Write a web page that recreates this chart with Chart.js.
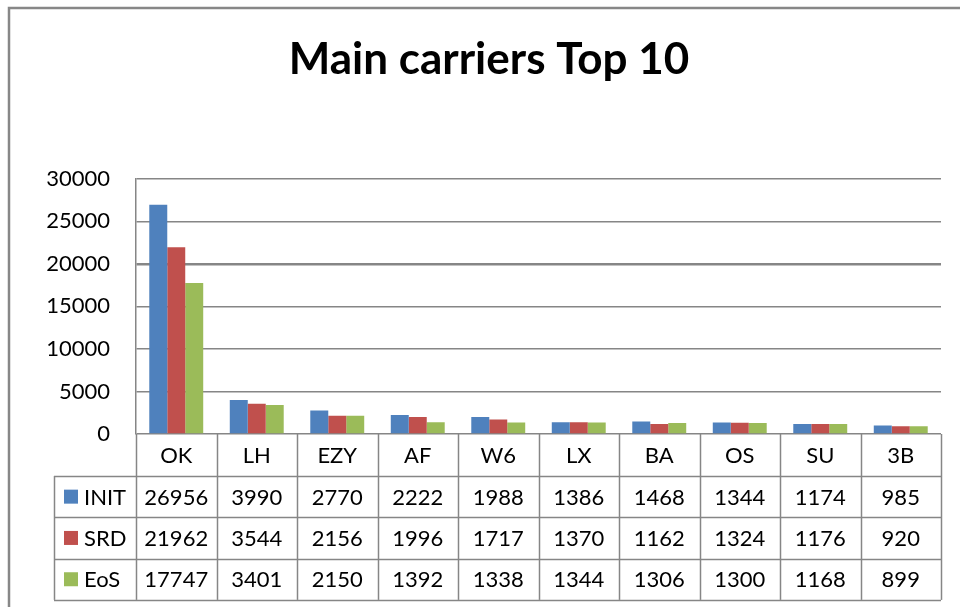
<!DOCTYPE html>
<html>
<head>
<meta charset="utf-8">
<script src="https://cdn.jsdelivr.net/npm/chart.js@4"></script>
<style>
  html, body { margin: 0; padding: 0; background: #fff; }
  #wrap { width: 960px; height: 607px; position: relative; }
</style>
</head>
<body>
<div id="wrap"><canvas id="c" width="960" height="607"></canvas></div>
<script>
const categories = ["OK", "LH", "EZY", "AF", "W6", "LX", "BA", "OS", "SU", "3B"];
const seriesNames = ["INIT", "SRD", "EoS"];
const initValues = [26956, 3990, 2770, 2222, 1988, 1386, 1468, 1344, 1174, 985];
const srdValues  = [21962, 3544, 2156, 1996, 1717, 1370, 1162, 1324, 1176, 920];
const eosValues  = [17747, 3401, 2150, 1392, 1338, 1344, 1306, 1300, 1168, 899];
const yTicks = [0, 5000, 10000, 15000, 20000, 25000, 30000];
const titleText = "Main carriers Top 10";

const colors = ["#4F81BD", "#C0504D", "#9BBB59"];
const gridColor = "#868686";
const FONT = "Lato";

const frame = {
  id: 'frame',
  beforeDraw(chart) {
    const ctx = chart.ctx;
    ctx.save();
    ctx.fillStyle = '#fff';
    ctx.fillRect(0, 0, chart.width, chart.height);
    ctx.strokeStyle = '#878787';
    ctx.lineWidth = 2.5;
    ctx.beginPath();
    ctx.moveTo(9, chart.height + 5);
    ctx.lineTo(9, 8);
    ctx.lineTo(chart.width + 5, 8);
    ctx.stroke();
    ctx.restore();
  }
};

const dataTable = {
  id: 'dataTable',
  afterDraw(chart) {
    const ctx = chart.ctx;
    const x = chart.scales.x;
    const area = chart.chartArea;
    const n = categories.length;
    const half = (x.getPixelForValue(1) - x.getPixelForValue(0)) / 2;
    const top = area.bottom;
    const rowH = 41.3;
    const tableLeft = 54;
    const right = x.getPixelForValue(n - 1) + half;
    const rows = [top, top + rowH + 0.7];
    for (let i = 1; i <= 3; i++) rows.push(rows[1] + i * rowH);
    ctx.save();
    ctx.strokeStyle = gridColor;
    ctx.lineWidth = 1.5;
    for (let r = 1; r < rows.length; r++) {
      ctx.beginPath();
      ctx.moveTo(tableLeft, Math.round(rows[r]) + 0.5);
      ctx.lineTo(right, Math.round(rows[r]) + 0.5);
      ctx.stroke();
    }
    ctx.beginPath();
    ctx.moveTo(tableLeft + 0.5, rows[1]);
    ctx.lineTo(tableLeft + 0.5, rows[4]);
    ctx.stroke();
    for (let i = 0; i <= n; i++) {
      const px = Math.round(x.getPixelForValue(i) - half) + 0.5;
      ctx.beginPath();
      ctx.moveTo(px, top);
      ctx.lineTo(px, rows[4]);
      ctx.stroke();
    }
    ctx.fillStyle = '#000';
    ctx.font = '22px ' + FONT;
    ctx.textAlign = 'center';
    ctx.textBaseline = 'middle';
    categories.forEach((c, i) => {
      ctx.fillText(c, x.getPixelForValue(i), (rows[0] + rows[1]) / 2 + 1);
    });
    const series = [initValues, srdValues, eosValues];
    series.forEach((vals, s) => {
      const cy = (rows[s + 1] + rows[s + 2]) / 2 + 1;
      vals.forEach((v, i) => {
        ctx.fillText(String(v), x.getPixelForValue(i), cy);
      });
      ctx.fillStyle = colors[s];
      ctx.fillRect(64, cy - 8, 14, 14);
      ctx.fillStyle = '#000';
      ctx.textAlign = 'left';
      ctx.fillText(seriesNames[s], 84, cy);
      ctx.textAlign = 'center';
    });
    ctx.restore();
  }
};

new Chart(document.getElementById('c'), {
  type: 'bar',
  data: {
    labels: categories,
    datasets: [
      { label: seriesNames[0], data: initValues, backgroundColor: colors[0] },
      { label: seriesNames[1], data: srdValues, backgroundColor: colors[1] },
      { label: seriesNames[2], data: eosValues, backgroundColor: colors[2] }
    ]
  },
  options: {
    responsive: false,
    animation: false,
    devicePixelRatio: 1,
    layout: { padding: { left: 37, right: 19, top: 0, bottom: 173 } },
    datasets: { bar: { categoryPercentage: 0.67, barPercentage: 1.0, borderWidth: 0 } },
    plugins: {
      legend: { display: false },
      tooltip: { enabled: false },
      title: {
        display: true,
        text: titleText,
        color: '#000',
        font: { family: FONT, size: 44, weight: 'bold' },
        padding: { top: 33, bottom: 93 }
      }
    },
    scales: {
      x: { display: false },
      y: {
        min: 0,
        max: 30000,
        afterBuildTicks(scale) { scale.ticks = yTicks.map(v => ({ value: v })); },
        afterFit(scale) { scale.width = 99; },
        border: { display: true, color: gridColor, width: 1.5 },
        grid: {
          color: gridColor,
          lineWidth: ctx => (ctx.tick && ctx.tick.value === 20000) ? 2.5 : 1.5,
          drawTicks: false
        },
        ticks: {
          color: '#000',
          padding: 26,
          font: { family: FONT, size: 22 },
          callback: v => String(v)
        }
      }
    }
  },
  plugins: [frame, dataTable]
});
</script>
</body>
</html>
